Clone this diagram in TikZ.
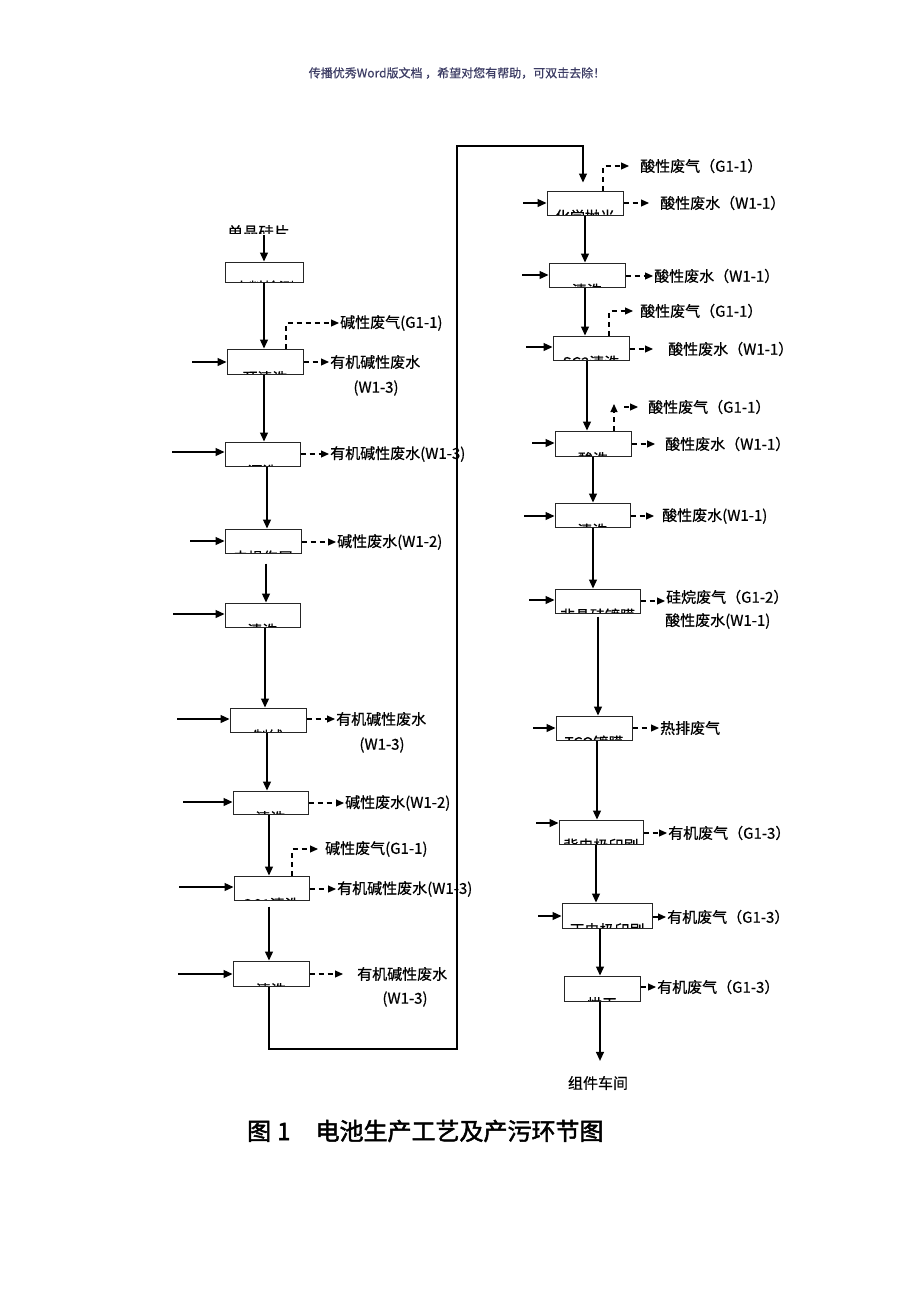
\documentclass[tikz,border=0pt]{standalone}
\usepackage{fontspec}
\newfontfamily\cjk[FakeBold=0.6]{Noto Sans CJK SC}
\newfontfamily\cjkb[FakeBold=2]{Noto Sans CJK SC}
\usetikzlibrary{arrows.meta,calc}
\tikzset{
 box/.style={draw=black!85, line width=1pt, inner sep=0pt},
 cliptext/.style={anchor=north, inner sep=0pt, font=\cjk\fontsize{15}{15}\selectfont},
 lab/.style={anchor=west, inner sep=1pt, font=\cjk\fontsize{15}{15}\selectfont},
 labc/.style={anchor=center, inner sep=1pt, font=\cjk\fontsize{15}{15}\selectfont},
 flow/.style={line width=1.3pt, -{Triangle[length=9pt,width=8pt]}},
 outarr/.style={line width=1.1pt, dash pattern=on 5pt off 4pt, -{Triangle[length=8pt,width=7pt]}},
 plainline/.style={line width=1.1pt},
}
\newcommand\procbox[7]{%
 \node[box, minimum width=#4pt, minimum height=#5pt,
   path picture={\node[cliptext] at ([yshift=#7pt+3pt]path picture bounding box.south) {#6};}]
   (#1) at (#2,#3) {};}
\begin{document}
\begin{tikzpicture}[x=1pt,y=-1pt]
\useasboundingbox (0,0) rectangle (920,1302);
% header
\node[font=\cjk\fontsize{12}{12}\selectfont, text={rgb,255:red,60;green,60;blue,100}, inner sep=0] (hdr) at (457,73) {传播优秀Word版文档 ，希望对您有帮助，可双击去除！};
% source
\begin{scope}
\clip (200,215) rectangle (330,233.5);
\node[cliptext, font=\cjk\fontsize{15.5}{15.5}\selectfont] (src) at (258.5,225) {单晶硅片};
\end{scope}
\coordinate (s0) at (264,235);
% left boxes
\procbox{b1}{264}{272}{78}{20}{来料检测}{2}
\procbox{b2}{265}{361.5}{76}{25}{预清洗}{6}
\procbox{b3}{262.5}{454}{75}{24}{漂洗}{4}
\procbox{b4}{263}{541}{76}{24}{去损伤层}{5}
\procbox{b5}{262.5}{615}{75}{24}{清洗}{6}
\procbox{b6}{268}{720}{76}{24}{制绒}{5}
\procbox{b7}{270.5}{802.5}{75}{23}{清洗}{5}
\procbox{b8}{271.5}{888}{75}{24}{SC1清洗}{5}
\procbox{b9}{271}{973.5}{76}{25}{清洗}{6}
% right boxes
\procbox{b10}{585}{203}{76}{24}{化学抛光}{8}
\procbox{b11}{587}{275}{76}{24}{清洗}{6}
\procbox{b12}{591}{348}{76}{24}{SC2清洗}{7}
\procbox{b13}{593}{443.5}{76}{25}{酸洗}{7}
\procbox{b14}{592.5}{515}{75}{24}{清洗}{6}
\procbox{b15}{597.5}{601}{85}{24}{非晶硅镀膜}{7}
\procbox{b16}{594}{728}{76}{24}{TCO镀膜}{7}
\procbox{b17}{601}{832}{84}{24}{背电极印刷}{8}
\procbox{b18}{607}{915.5}{90}{25}{正电极印刷}{8}
\procbox{b19}{602}{988.5}{76}{25}{烘干}{7}
% main flow left
\draw[flow] (s0) -- (s0 |- b1.north);
\draw[flow] (b1.south) -- (b1.south |- b2.north);
\draw[flow] ([xshift=-1pt]b2.south) -- ([xshift=-1pt]b2.south |- b3.north);
\draw[flow] ([xshift=4.5pt]b3.south) -- ([xshift=4pt]b4.north);
\draw[flow, shorten <=10pt] ([xshift=3pt]b4.south) -- ([xshift=3.5pt]b5.north);
\draw[flow] ([xshift=2.5pt]b5.south) -- ([xshift=-3pt]b6.north);
\draw[flow] ([xshift=-1pt]b6.south) -- ([xshift=-3.5pt]b7.north);
\draw[flow] ([xshift=-1.5pt]b7.south) -- ([xshift=-2.5pt]b8.north);
\draw[flow, shorten <=6pt] ([xshift=-2.5pt]b8.south) -- ([xshift=-2pt]b9.north);
% loop connector
\coordinate (L1) at (269,1049);
\coordinate (L2) at (457,1049);
\coordinate (L3) at (457,146);
\coordinate (L4) at (583,146);
\draw[plainline, -{Triangle[length=9pt,width=8pt]}, shorten >=8pt] ([xshift=-2pt]b9.south) -- (L1) -- (L2) -- (L3) -- (L4) -- (L4 |- b10.north);
% main flow right
\draw[flow] (b10.south) -- ([xshift=-2pt]b11.north);
\draw[flow] ([xshift=-2pt]b11.south) -- ([xshift=-6pt]b12.north);
\draw[flow] ([xshift=-4pt]b12.south) -- ([xshift=-6pt]b13.north);
\draw[flow] (b13.south) -- ([xshift=0.5pt]b14.north);
\draw[flow] ([xshift=0.5pt]b14.south) -- ([xshift=-4.5pt]b15.north);
\draw[flow, shorten <=3pt] ([xshift=0.5pt]b15.south) -- ([xshift=4pt]b16.north);
\draw[flow] ([xshift=3pt]b16.south) -- ([xshift=-4pt]b17.north);
\draw[flow] ([xshift=-5pt]b17.south) -- ([xshift=-11pt]b18.north);
\draw[flow] ([xshift=-7pt]b18.south) -- ([xshift=-2pt]b19.north);
\node[labc] (fin) at (598,1083) {组件车间};
\draw[flow, shorten >=14pt] ([xshift=-2pt]b19.south) -- ([xshift=-2pt]b19.south |- fin.north);
% inputs left
\coordinate (in2) at (192,362);
\coordinate (in3) at (172,452);
\coordinate (in4) at (190,541);
\coordinate (in5) at (173,614);
\coordinate (in6) at (177,719);
\coordinate (in7) at (183,802);
\coordinate (in8) at (179,887);
\coordinate (in9) at (178,974);
\foreach \i in {2,...,9} { \draw[flow] (in\i) -- (in\i -| b\i.west); }
% inputs right
\coordinate (in10) at (523,203);
\coordinate (in11) at (522,275);
\coordinate (in12) at (526,347);
\coordinate (in13) at (532,443);
\coordinate (in14) at (524,516);
\coordinate (in15) at (529,600);
\coordinate (in16) at (533,728);
\coordinate (in17) at (536,823);
\coordinate (in18) at (538,916);
\foreach \i in {10,...,18} { \draw[flow] (in\i) -- (in\i -| b\i.west); }
% left labels
\node[lab] (g2) at (339,323) {碱性废气(G1-1)};
\draw[outarr] ([xshift=21pt]b2.north) |- (g2.west);
\node[lab] (w2) at (329,362) {有机碱性废水};
\node[labc] (w2b) at (376,388) {(W1-3)};
\draw[outarr] (b2.east |- w2.west) -- (w2.west);
\node[lab] (w3) at (329,454) {有机碱性废水(W1-3)};
\draw[outarr] (b3.east |- w3.west) -- (w3.west);
\node[lab] (w4) at (336,542) {碱性废水(W1-2)};
\draw[outarr] (b4.east |- w4.west) -- (w4.west);
\node[lab] (w6) at (335,719) {有机碱性废水};
\node[labc] (w6b) at (382,745) {(W1-3)};
\draw[outarr] (b6.east |- w6.west) -- (w6.west);
\node[lab] (w7) at (344,803) {碱性废水(W1-2)};
\draw[outarr] (b7.east |- w7.west) -- (w7.west);
\node[lab] (g8) at (324,849) {碱性废气(G1-1)};
\draw[outarr, shorten >=6pt] ([xshift=20.5pt]b8.north) |- (g8.west);
\node[lab] (w8) at (336,889) {有机碱性废水(W1-3)};
\draw[outarr] (b8.east |- w8.west) -- (w8.west);
\node[lab] (w9) at (356,974) {有机碱性废水};
\node[labc] (w9b) at (405,999) {(W1-3)};
\draw[outarr, shorten >=13pt] (b9.east |- w9.west) -- (w9.west);
% right labels
\node[lab] (g10) at (639,166) {酸性废气（G1-1）};
\draw[outarr, shorten >=10pt] ([xshift=18pt]b10.north) |- (g10.west);
\node[lab] (w10) at (659,203) {酸性废水（W1-1）};
\draw[outarr, shorten >=10pt] (b10.east |- w10.west) -- (w10.west);
\node[lab] (w11) at (653,276) {酸性废水（W1-1）};
\draw[outarr] (b11.east |- w11.west) -- (w11.west);
\node[lab] (g12) at (639,311) {酸性废气（G1-1）};
\draw[outarr, shorten >=6pt] ([xshift=18pt]b12.north) |- (g12.west);
\node[lab] (w12) at (667,349) {酸性废水（W1-1）};
\draw[outarr, shorten >=14pt] (b12.east |- w12.west) -- (w12.west);
\node[lab] (g13) at (647,407) {酸性废气（G1-1）};
\coordinate (g13a) at (614,404);
\coordinate (g13b) at (624,407);
\draw[outarr] ([xshift=21pt]b13.north) -- (g13a);
\draw[outarr, shorten >=9pt] (g13b) -- (g13.west);
\node[lab] (w13) at (664,444) {酸性废水（W1-1）};
\draw[outarr, shorten >=9pt] (b13.east |- w13.west) -- (w13.west);
\node[lab] (w14) at (661,516) {酸性废水(W1-1)};
\draw[outarr, shorten >=7pt] (b14.east |- w14.west) -- (w14.west);
\node[lab] (w15a) at (665,597) {硅烷废气（G1-2）};
\node[lab] (w15b) at (664,621) {酸性废水(W1-1)};
\draw[outarr] (b15.east) -- (b15.east -| w15a.west);
\node[lab] (w16) at (659,728) {热排废气};
\draw[outarr] (b16.east |- w16.west) -- (w16.west);
\node[lab] (w17) at (667,833) {有机废气（G1-3）};
\draw[outarr] (b17.east |- w17.west) -- (w17.west);
\node[lab] (w18) at (666,917) {有机废气（G1-3）};
\draw[outarr] (b18.east |- w18.west) -- (w18.west);
\node[lab] (w19) at (656,987) {有机废气（G1-3）};
\draw[outarr] (b19.east |- w19.west) -- (w19.west);
% caption
\node[anchor=west, inner sep=0, font=\cjkb\fontsize{24}{24}\selectfont] (cap) at (247,1131) {图\hspace{6pt}1\hspace{25pt}电池生产工艺及产污环节图};
\end{tikzpicture}
\end{document}
